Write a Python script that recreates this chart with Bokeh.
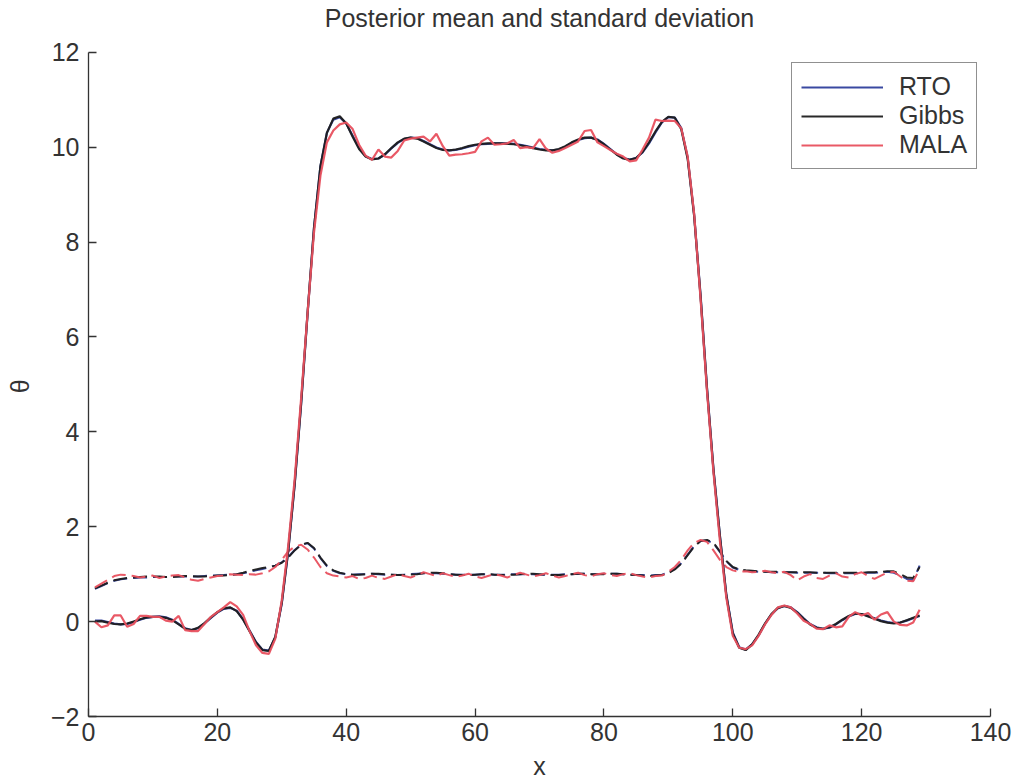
from bokeh.plotting import figure
from bokeh.models import Range1d, Legend, LegendItem, ColumnDataSource, Label
from bokeh.embed import file_html
from bokeh.resources import INLINE

x = list(range(1, 130))

gibbs_mean = [
    0.00, 0.01, -0.02, -0.05, -0.06, -0.04, 0.00, 0.05, 0.09, 0.10,
    0.10, 0.08, 0.03, -0.06, -0.15, -0.18, -0.13, -0.03, 0.09, 0.20,
    0.28, 0.30, 0.22, 0.04, -0.20, -0.44, -0.60, -0.62, -0.32, 0.40,
    1.50, 2.90, 4.60, 6.50, 8.30, 9.60, 10.30, 10.60, 10.65, 10.50,
    10.22, 9.96, 9.80, 9.74, 9.76, 9.85, 9.98, 10.10, 10.18, 10.20,
    10.18, 10.12, 10.05, 9.98, 9.94, 9.93, 9.95, 9.98, 10.02, 10.05,
    10.07, 10.08, 10.08, 10.08, 10.07, 10.06, 10.04, 10.01, 9.98, 9.95,
    9.93, 9.93, 9.96, 10.02, 10.10, 10.16, 10.20, 10.20, 10.15, 10.06,
    9.95, 9.84, 9.76, 9.73, 9.77, 9.90, 10.10, 10.33, 10.53, 10.64,
    10.62, 10.38, 9.75, 8.55, 6.85, 4.90, 3.20, 1.80, 0.55, -0.25,
    -0.55, -0.60, -0.48, -0.28, -0.04, 0.16, 0.29, 0.33, 0.29, 0.19,
    0.06, -0.06, -0.13, -0.15, -0.12, -0.05, 0.04, 0.12, 0.17, 0.16,
    0.11, 0.06, 0.01, -0.02, -0.04, -0.02, 0.03, 0.08, 0.13,
]

rto_mean = [
    0.02, 0.02, -0.01, -0.04, -0.06, -0.05, -0.01, 0.04, 0.08, 0.10,
    0.11, 0.09, 0.04, -0.05, -0.14, -0.18, -0.14, -0.04, 0.08, 0.19,
    0.27, 0.29, 0.23, 0.05, -0.19, -0.43, -0.59, -0.61, -0.33, 0.38,
    1.48, 2.88, 4.58, 6.48, 8.30, 9.60, 10.30, 10.58, 10.63, 10.50,
    10.24, 9.98, 9.81, 9.75, 9.76, 9.84, 9.97, 10.09, 10.17, 10.20,
    10.19, 10.13, 10.06, 9.99, 9.95, 9.93, 9.94, 9.97, 10.01, 10.04,
    10.06, 10.07, 10.08, 10.08, 10.08, 10.07, 10.05, 10.02, 9.99, 9.96,
    9.94, 9.93, 9.95, 10.01, 10.09, 10.15, 10.19, 10.20, 10.16, 10.07,
    9.96, 9.85, 9.77, 9.74, 9.77, 9.89, 10.08, 10.31, 10.52, 10.63,
    10.62, 10.40, 9.78, 8.58, 6.88, 4.92, 3.22, 1.82, 0.57, -0.23,
    -0.54, -0.59, -0.48, -0.29, -0.05, 0.15, 0.28, 0.33, 0.30, 0.20,
    0.07, -0.05, -0.12, -0.15, -0.13, -0.06, 0.03, 0.11, 0.16, 0.16,
    0.12, 0.07, 0.02, -0.01, -0.03, -0.02, 0.02, 0.07, 0.12,
]

mala_mean = [
    0.00, -0.12, -0.08, 0.13, 0.13, -0.11, -0.05, 0.12, 0.12, 0.10,
    0.10, 0.02, 0.00, 0.12, -0.18, -0.20, -0.20, -0.05, 0.10, 0.20,
    0.30, 0.41, 0.32, 0.14, -0.20, -0.50, -0.66, -0.68, -0.36, 0.45,
    1.60, 3.00, 4.70, 6.50, 8.20, 9.40, 10.10, 10.35, 10.48, 10.52,
    10.38, 10.05, 9.82, 9.73, 9.95, 9.80, 9.78, 9.92, 10.14, 10.18,
    10.20, 10.22, 10.12, 10.28, 10.02, 9.82, 9.84, 9.85, 9.87, 9.90,
    10.12, 10.20, 10.05, 10.06, 10.08, 10.15, 9.98, 10.00, 9.98, 10.17,
    9.97, 9.88, 9.92, 9.98, 10.05, 10.12, 10.34, 10.36, 10.10, 10.02,
    9.94, 9.86, 9.80, 9.70, 9.72, 9.95, 10.20, 10.58, 10.55, 10.56,
    10.55, 10.40, 9.80, 8.60, 6.80, 4.85, 3.15, 1.70, 0.50, -0.30,
    -0.55, -0.58, -0.50, -0.30, -0.06, 0.14, 0.30, 0.34, 0.30, 0.17,
    0.02, -0.05, -0.15, -0.16, -0.08, -0.12, -0.10, 0.10, 0.20, 0.13,
    0.18, 0.04, 0.15, 0.20, 0.00, -0.07, -0.08, -0.02, 0.25,
]

gibbs_std = [
    0.70, 0.76, 0.82, 0.87, 0.90, 0.92, 0.93, 0.94, 0.95, 0.95,
    0.95, 0.94, 0.94, 0.95, 0.96, 0.96, 0.95, 0.95, 0.96, 0.97,
    0.97, 0.98, 1.00, 1.03, 1.07, 1.10, 1.13, 1.15, 1.18, 1.24,
    1.35, 1.50, 1.62, 1.66, 1.55, 1.35, 1.18, 1.08, 1.03, 1.00,
    0.99, 0.99, 1.00, 1.01, 1.01, 1.00, 0.99, 0.98, 0.98, 0.99,
    1.00, 1.02, 1.03, 1.03, 1.02, 1.00, 0.99, 0.98, 0.98, 0.99,
    1.00, 1.00, 0.99, 0.98, 0.98, 0.99, 1.00, 1.01, 1.01, 1.00,
    0.99, 0.98, 0.98, 0.99, 1.00, 1.01, 1.01, 1.00, 1.00, 1.00,
    1.01, 1.01, 1.00, 0.99, 0.98, 0.97, 0.96, 0.97, 0.98, 1.02,
    1.10, 1.22, 1.40, 1.58, 1.70, 1.72, 1.66, 1.48, 1.28, 1.15,
    1.10, 1.08, 1.07, 1.06, 1.05, 1.05, 1.05, 1.04, 1.04, 1.04,
    1.04, 1.04, 1.03, 1.03, 1.03, 1.03, 1.03, 1.03, 1.03, 1.03,
    1.04, 1.04, 1.05, 1.06, 1.06, 1.00, 0.93, 0.92, 1.15,
]

rto_std = [
    0.69, 0.75, 0.81, 0.86, 0.89, 0.91, 0.92, 0.93, 0.93, 0.94,
    0.94, 0.94, 0.95, 0.95, 0.95, 0.95, 0.95, 0.96, 0.97, 0.97,
    0.98, 0.99, 1.00, 1.02, 1.05, 1.08, 1.11, 1.14, 1.18, 1.25,
    1.36, 1.51, 1.62, 1.65, 1.54, 1.34, 1.17, 1.07, 1.02, 1.00,
    0.99, 1.00, 1.00, 1.01, 1.00, 0.99, 0.99, 0.98, 0.99, 1.00,
    1.01, 1.02, 1.02, 1.02, 1.01, 1.00, 0.99, 0.99, 0.99, 0.99,
    1.00, 1.00, 0.99, 0.99, 0.99, 1.00, 1.00, 1.00, 1.00, 0.99,
    0.99, 0.99, 0.99, 1.00, 1.00, 1.01, 1.01, 1.00, 1.00, 1.01,
    1.01, 1.01, 1.00, 0.99, 0.98, 0.98, 0.97, 0.98, 0.99, 1.03,
    1.11, 1.23, 1.41, 1.59, 1.70, 1.71, 1.65, 1.47, 1.27, 1.14,
    1.09, 1.07, 1.06, 1.05, 1.05, 1.04, 1.04, 1.04, 1.04, 1.03,
    1.03, 1.03, 1.03, 1.03, 1.02, 1.02, 1.02, 1.02, 1.02, 1.02,
    1.03, 1.03, 1.04, 1.05, 1.03, 0.97, 0.90, 0.87, 1.18,
]

mala_std = [
    0.72, 0.80, 0.88, 0.96, 0.99, 0.98, 0.96, 0.93, 0.95, 0.97,
    0.92, 0.95, 0.97, 0.98, 0.93, 0.88, 0.86, 0.90, 0.93, 0.96,
    0.97, 1.00, 0.99, 0.98, 1.00, 0.99, 1.02, 1.06, 1.15, 1.30,
    1.48, 1.58, 1.62, 1.52, 1.35, 1.15, 1.02, 0.97, 0.95, 0.93,
    0.96, 0.90, 0.92, 0.97, 0.92, 0.90, 0.95, 1.00, 0.96, 0.93,
    0.98, 1.04, 1.00, 0.96, 1.02, 0.98, 0.94, 0.97, 1.01, 0.95,
    0.92, 0.96, 1.00, 0.97, 0.93, 0.98, 1.03, 0.99, 0.95, 0.98,
    1.02, 0.97, 0.93, 0.96, 1.00, 1.03, 0.98, 0.95, 1.00, 1.02,
    0.98, 0.96, 1.00, 1.02, 0.98, 0.95, 0.93, 0.96, 0.97, 1.05,
    1.15, 1.30, 1.50, 1.66, 1.72, 1.68, 1.50, 1.30, 1.15, 1.08,
    1.05, 1.06, 1.04, 1.05, 1.07, 1.04, 1.02, 1.05, 0.98, 0.87,
    0.95, 1.00, 0.92, 0.90, 0.97, 1.02, 0.95, 0.93, 1.00, 1.04,
    0.96, 0.90, 0.97, 1.03, 1.05, 0.95, 0.86, 0.85, 1.10,
]

series_names = ["RTO", "Gibbs", "MALA"]
series_colors = ["#2f3f9c", "#1e1e1e", "#e8505e"]
title_text = "Posterior mean and standard deviation"

FONT = "Liberation Sans"
TXT = "#333333"

# frame extends to the top of the canvas; the visible axis stops at 12
p = figure(width=1015, height=782, output_backend="svg", toolbar_location=None,
           x_range=Range1d(0, 140), y_range=Range1d(-2, 13.09),
           min_border_left=88, min_border_right=25, min_border_top=0,
           min_border_bottom=64)
p.outline_line_color = None
p.xgrid.visible = False
p.ygrid.visible = False
p.background_fill_color = "white"
p.border_fill_color = "white"

for ax in (p.xaxis[0], p.yaxis[0]):
    ax.axis_line_color = TXT
    ax.axis_line_width = 1.3
    ax.major_tick_line_color = TXT
    ax.major_tick_line_width = 1.3
    ax.major_tick_in = 8
    ax.major_tick_out = 0
    ax.minor_tick_line_color = None
    ax.major_label_text_font = FONT
    ax.major_label_text_font_size = "25px"
    ax.major_label_text_color = TXT
    ax.axis_label_text_font = FONT
    ax.axis_label_text_font_size = "25px"
    ax.axis_label_text_font_style = "normal"
    ax.axis_label_text_color = TXT

p.xaxis.ticker = [0, 20, 40, 60, 80, 100, 120, 140]
p.yaxis.ticker = [-2, 0, 2, 4, 6, 8, 10, 12]
p.yaxis.bounds = (-2, 12)
p.xaxis.axis_label = "x"
# trailing no-break spaces centre the rotated θ on the -2..12 span
p.yaxis.axis_label = "θ" + "\u00a0" * 8
p.xaxis.major_label_standoff = 6
p.xaxis.axis_label_standoff = 8
p.yaxis.major_label_standoff = 9
p.yaxis.axis_label_standoff = 14

title = Label(x=70, y=12.72, text=title_text, text_align="center",
              text_baseline="middle", text_font=FONT, text_font_size="25px",
              text_color=TXT)
p.add_layout(title)

means = [rto_mean, gibbs_mean, mala_mean]
stds = [rto_std, gibbs_std, mala_std]

items = []
for name, col, m, s in zip(series_names, series_colors, means, stds):
    src = ColumnDataSource(dict(x=x, mean=m, std=s))
    p.line("x", "std", source=src, line_color=col, line_width=2,
           line_dash="14 6", line_alpha=0.95)
for name, col, m, s in zip(series_names, series_colors, means, stds):
    src = ColumnDataSource(dict(x=x, mean=m, std=s))
    r = p.line("x", "mean", source=src, line_color=col, line_width=2.2,
               line_alpha=0.95)
    items.append(LegendItem(label=name, renderers=[r]))

legend = Legend(items=items, location=(703, 547))
legend.label_text_font = FONT
legend.label_text_font_size = "25px"
legend.label_text_color = TXT
legend.border_line_color = "#222222"
legend.border_line_width = 1.3
legend.background_fill_color = "white"
legend.background_fill_alpha = 1
legend.glyph_width = 82
legend.glyph_height = 26
legend.label_height = 26
legend.label_standoff = 16
legend.padding = 9
legend.spacing = 0
legend.margin = 0
p.add_layout(legend)

open("out.html", "w").write(file_html(p, INLINE))
